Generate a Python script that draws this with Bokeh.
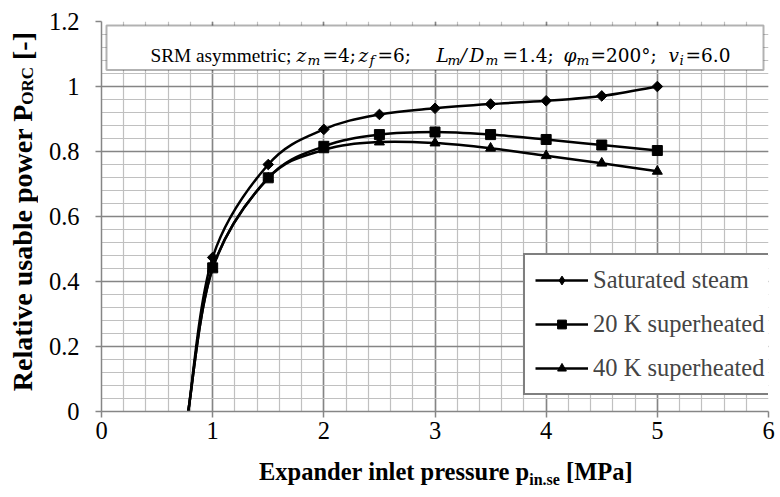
import numpy as np
from bokeh.plotting import figure
from bokeh.layouts import column, row
from bokeh.models import (Range1d, FixedTicker, Label, Legend, LegendItem,
                          ColumnDataSource, BoxAnnotation, Div)
from bokeh.embed import file_html
from bokeh.resources import INLINE

# ---------------- data ----------------
pressure = [1.0, 1.5, 2.0, 2.5, 3.0, 3.5, 4.0, 4.5, 5.0]
zero_power_pressure = 0.78
saturated_steam = [0.474, 0.760, 0.868, 0.914, 0.933, 0.946, 0.956, 0.971, 1.000]
superheated_20k = [0.442, 0.719, 0.816, 0.852, 0.860, 0.852, 0.837, 0.820, 0.803]
superheated_40k = [0.440, 0.718, 0.805, 0.829, 0.826, 0.810, 0.787, 0.764, 0.739]
series_names = ["Saturated steam", "20 K superheated", "40 K superheated"]

x_ticks = [0, 1, 2, 3, 4, 5, 6]
x_tick_labels = ["0", "1", "2", "3", "4", "5", "6"]
y_ticks = [0, 0.2, 0.4, 0.6, 0.8, 1.0, 1.2]
y_tick_labels = ["0", "0.2", "0.4", "0.6", "0.8", "1", "1.2"]

# ---------------- layout ----------------
YDIV_W = 45
L, T, FW, FH = 101, 21, 667, 390
BOTTOM = 47
XMAX, YMAX = 6.0, 1.2
SERIF = "Liberation Serif"
MATH = "DejaVu Serif"
FS = 24.5


def dx(px):
    return (px - L) / FW * XMAX


def dy(py):
    return (T + FH - py) / FH * YMAX


p = figure(frame_width=FW, frame_height=FH, min_border_left=L - YDIV_W,
           min_border_right=780 - L - FW, min_border_top=T, min_border_bottom=BOTTOM,
           x_range=Range1d(0, XMAX), y_range=Range1d(0, YMAX),
           output_backend="svg", toolbar_location=None, margin=0)
p.outline_line_color = None
p.background_fill_color = "white"
p.border_fill_color = "white"

x_minor = [round(0.2 * i, 2) for i in range(31)]
y_minor = [round(0.04 * i, 2) for i in range(31)]
p.xaxis.ticker = FixedTicker(ticks=x_ticks, minor_ticks=x_minor)
p.yaxis.ticker = FixedTicker(ticks=y_ticks, minor_ticks=y_minor)
p.xaxis.major_label_overrides = {t: s for t, s in zip(x_ticks, x_tick_labels)}
p.yaxis.major_label_overrides = {t: s for t, s in zip(y_ticks, y_tick_labels)}

for ax in (p.xaxis, p.yaxis):
    ax.axis_line_color = "#868686"
    ax.axis_line_width = 1.5
    ax.major_tick_line_color = "#868686"
    ax.major_tick_line_width = 1.5
    ax.major_tick_out = 6
    ax.major_tick_in = 0
    ax.minor_tick_line_color = None
    ax.major_label_text_font = SERIF
    ax.major_label_text_font_size = f"{FS}px"
    ax.major_label_text_color = "black"
p.xaxis.major_label_standoff = 4
p.yaxis.major_label_standoff = 16

for g in (p.xgrid, p.ygrid):
    g.grid_line_color = "#858585"
    g.grid_line_width = 1.6
    g.minor_grid_line_color = "#c0c0c0"
    g.minor_grid_line_width = 1.2
    g.level = "underlay"


# ---------------- smoothed curves ----------------
def bezier_source(xs, ys, k=1.0 / 6.0):
    pts = np.column_stack([xs, ys]).astype(float)
    n = len(pts)
    d = dict(x0=[], y0=[], x1=[], y1=[], cx0=[], cy0=[], cx1=[], cy1=[])
    for i in range(n - 1):
        p0 = pts[i - 1] if i > 0 else pts[i]
        p1, p2 = pts[i], pts[i + 1]
        p3 = pts[i + 2] if i + 2 < n else pts[i + 1]
        c0 = p1 + (p2 - p0) * k
        c1 = p2 - (p3 - p1) * k
        d["x0"].append(p1[0]); d["y0"].append(p1[1])
        d["x1"].append(p2[0]); d["y1"].append(p2[1])
        d["cx0"].append(c0[0]); d["cy0"].append(c0[1])
        d["cx1"].append(c1[0]); d["cy1"].append(c1[1])
    return ColumnDataSource(d)


series = [saturated_steam, superheated_20k, superheated_40k]
markers = [("square", np.pi / 4, 7.5, "diamond"), ("square", 0.0, 10, "square"),
           ("triangle", 0.0, 10, "triangle")]
items = []
for vals, name, (mk, ang, sz, legend_mk) in zip(series, series_names, markers):
    src = bezier_source([zero_power_pressure] + pressure, [0.0] + vals)
    b = p.bezier(x0="x0", y0="y0", x1="x1", y1="y1", cx0="cx0", cy0="cy0",
                 cx1="cx1", cy1="cy1", source=src, line_color="black", line_width=2.5)
    s = p.scatter(pressure, vals, marker=mk, angle=ang, size=sz,
                  fill_color="black", line_color="black")
    if legend_mk != mk:
        # legend swatch only (the legend does not rotate markers)
        s = p.scatter(pressure, vals, marker=legend_mk, size=sz, visible=False,
                      fill_color="black", line_color="black")
    items.append(LegendItem(label=name, renderers=[b, s]))

legend = Legend(items=items, location=(422, 16), margin=0, padding=10, spacing=14,
                glyph_width=53, glyph_height=22, label_height=30, label_standoff=5,
                label_text_font=SERIF, label_text_font_size=f"{FS}px",
                border_line_color="black", border_line_width=2,
                background_fill_color="white", background_fill_alpha=1.0)
p.add_layout(legend)

# ---------------- parameter box ----------------
p.add_layout(BoxAnnotation(left=dx(106), right=dx(763), top=dy(25), bottom=dy(69.5),
                           fill_color="white", fill_alpha=1.0, line_color="black",
                           line_width=2, level="annotation"))

TF = 19.3
MF = 18.5
SUB = 13.5
pieces = [
    ("SRM asymmetric;", 150, SERIF, "normal", TF, 0),
    ("z", 296, MATH, "italic", MF, 0), ("m", 307, MATH, "italic", SUB, 4),
    ("=4;", 322, MATH, "normal", MF, 0),
    ("z", 358, MATH, "italic", MF, 0), ("f", 369, MATH, "italic", SUB, 4),
    ("=6;", 377, MATH, "normal", MF, 0),
    ("L", 436, MATH, "italic", MF, 0), ("m", 447, MATH, "italic", SUB, 4),
    ("/", 460, MATH, "italic", MF, 0),
    ("D", 469, MATH, "italic", MF, 0), ("m", 485, MATH, "italic", SUB, 4),
    ("=1.4;", 502, MATH, "normal", MF, 0),
    ("\u03c6", 563, MATH, "italic", MF, 0), ("m", 576, MATH, "italic", SUB, 4),
    ("=200\u00b0;", 590, MATH, "normal", MF, 0),
    ("v", 668, MATH, "italic", MF, 0), ("i", 679, MATH, "italic", SUB, 4),
    ("=6.0", 685, MATH, "normal", MF, 0),
]
for txt, px, font, style, size, shift in pieces:
    p.add_layout(Label(x=dx(px), y=dy(55 + shift), text=txt, text_font=font,
                       text_font_style=style, text_font_size=f"{size}px",
                       text_align="left", text_baseline="alphabetic", text_color="black"))

# ---------------- axis titles (HTML, with subscripts) ----------------
PH = T + FH + BOTTOM
x_title_font = f"font-family:'{SERIF}'; font-weight:bold; font-size:{FS}px; color:black;"
y_title_font = f"font-family:'{SERIF}'; font-weight:bold; font-size:28px; color:black;"
sub_style = "font-size:16px; vertical-align:-5px; line-height:0;"
ysub_style = "font-size:17px; vertical-align:-5px; line-height:0;"

y_title = Div(width=YDIV_W, height=PH, margin=0, text=(
    f'<div style="margin-top:{T - 4}px; width:{YDIV_W}px; height:{FH}px; display:flex; '
    f'align-items:center; justify-content:center;">'
    f'<div style="writing-mode:vertical-rl; transform:rotate(180deg); white-space:nowrap; '
    f'line-height:30px; {y_title_font}">'
    f'Relative usable power P<sub style="{ysub_style}">ORC</sub> [-]</div></div>'))

x_title = Div(width=780, height=497 - PH, margin=0, text=(
    f'<div style="padding-left:259px; white-space:nowrap; line-height:27px; {x_title_font}">'
    f'Expander inlet pressure p<sub style="{sub_style}">in.se</sub> [MPa]</div>'))

layout = column(row(y_title, p, margin=0, spacing=0), x_title, margin=0, spacing=0)

open("out.html", "w").write(file_html(layout, INLINE))
